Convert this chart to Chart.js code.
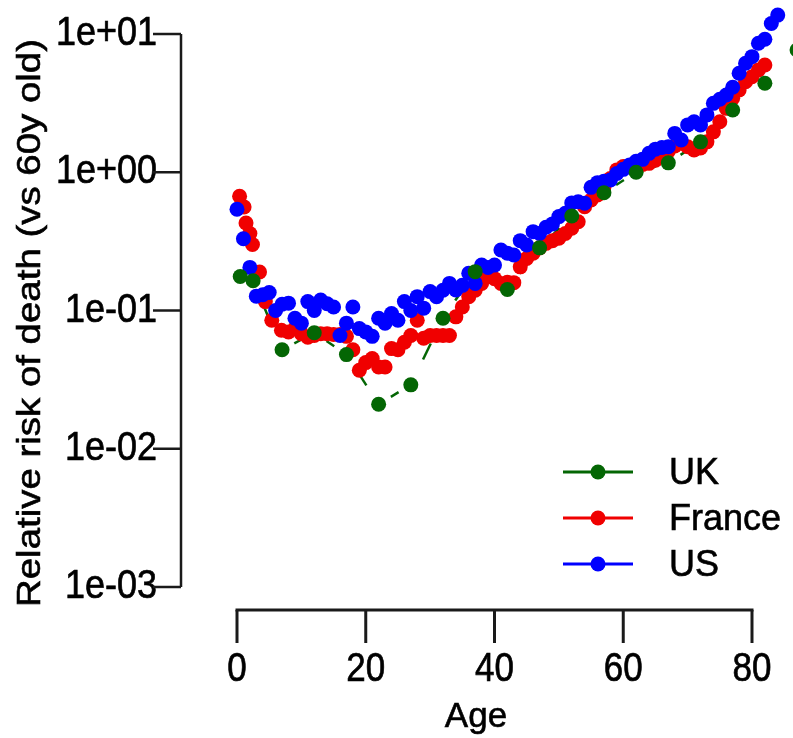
<!DOCTYPE html>
<html>
<head>
<meta charset="utf-8">
<script src="https://cdn.jsdelivr.net/npm/chart.js@4"></script>
<style>
  html, body { margin: 0; padding: 0; background: #fff; overflow: hidden; }
  #wrap { width: 793px; height: 738px; position: relative; }
</style>
</head>
<body>
<div id="wrap"><canvas id="risk"></canvas></div>
<script>
// Age-specific relative risk of death
const ukAges = [0.5, 2.5, 7, 12, 17, 22, 27, 32, 37, 42, 47, 52, 57, 62, 67, 72, 77, 82, 87];
const ukRisk = [0.176, 0.164, 0.052, 0.069, 0.048, 0.021, 0.029, 0.088, 0.191, 0.142,
  0.284, 0.483, 0.711, 1.0, 1.17, 1.66, 2.82, 4.40, 7.66];

const frAges = [0.4, 1.1, 1.4, 2, 2.4, 3.5, 4.4, 5.4, 6.9, 8, 9, 10, 11, 12, 13, 14, 15, 16, 17, 18,
  19, 20, 21, 22, 23, 24, 25, 26, 27, 28, 29, 30, 31, 32, 33, 34, 35, 36, 37, 38, 39, 40,
  41, 42, 43, 44, 45, 46, 47, 48, 49, 50, 51, 52, 53, 54, 55, 56, 57, 58, 59, 60, 61, 62,
  63, 64, 65, 66, 67, 68, 69, 70, 71, 72, 73, 74, 75, 76, 77, 78, 79, 80, 81, 82];
const frRisk = [0.67, 0.56, 0.43, 0.36, 0.30, 0.19, 0.116, 0.085, 0.072, 0.070, 0.074, 0.068,
  0.064, 0.066, 0.068, 0.068, 0.067, 0.067, 0.065, 0.052, 0.037, 0.042, 0.045, 0.039, 0.039,
  0.053, 0.052, 0.059, 0.066, 0.085, 0.063, 0.066, 0.066, 0.066, 0.066, 0.090, 0.106, 0.126,
  0.14, 0.157, 0.176, 0.17, 0.157, 0.16, 0.159, 0.207, 0.238, 0.26, 0.284, 0.306, 0.32, 0.333,
  0.361, 0.394, 0.439, 0.563, 0.63, 0.685, 0.78, 0.90, 1.04, 1.10, 1.10, 1.13, 1.14, 1.16,
  1.22, 1.30, 1.42, 1.55, 1.62, 1.53, 1.45, 1.50, 1.66, 1.96, 2.32, 2.90, 3.43, 3.94, 4.52,
  4.91, 5.50, 5.97];

const usAges = [0, 1, 2, 3, 4, 5, 6, 7, 8, 9, 10, 11, 12, 13, 14, 15, 16, 17, 18, 19, 20, 21,
  22, 23, 24, 25, 26, 27, 28, 29, 30, 31, 32, 33, 34, 35, 36, 37, 38, 39, 40, 41, 42, 43, 44,
  45, 46, 47, 48, 49, 50, 51, 52, 53, 54, 55, 56, 57, 58, 59, 60, 61, 62, 63, 64, 65, 66, 67,
  68, 69, 70, 71, 72, 73, 74, 75, 76, 77, 78, 79, 80, 81, 82, 83, 84];
const usRisk = [0.54, 0.33, 0.205, 0.127, 0.13, 0.135, 0.10, 0.111, 0.113, 0.088, 0.081, 0.116,
  0.10, 0.119, 0.112, 0.106, 0.066, 0.081, 0.106, 0.074, 0.070, 0.065, 0.088, 0.081, 0.095,
  0.085, 0.116, 0.10, 0.126, 0.104, 0.137, 0.126, 0.14, 0.157, 0.141, 0.152, 0.186, 0.157,
  0.213, 0.205, 0.213, 0.274, 0.26, 0.252, 0.32, 0.298, 0.372, 0.361, 0.40, 0.423, 0.478,
  0.505, 0.60, 0.612, 0.597, 0.778, 0.841, 0.86, 0.879, 0.98, 1.05, 1.13, 1.20, 1.24, 1.37,
  1.47, 1.51, 1.53, 1.91, 1.71, 2.20, 2.32, 2.20, 2.60, 3.15, 3.37, 3.62, 4.12, 5.20, 6.14,
  6.86, 8.57, 9.17, 11.9, 13.7];

const xTicks = [0, 20, 40, 60, 80];
const xTickLabels = ['0', '20', '40', '60', '80'];
const yTicks = [0.001, 0.01, 0.1, 1, 10];
const yTickLabels = ['1e-03', '1e-02', '1e-01', '1e+00', '1e+01'];

const GREEN = '#046604', RED = '#f00000', BLUE = '#0000ff';
const FONT = '"Liberation Sans", Arial, sans-serif';

function pts(xs, ys) {
  return xs.map((a, i) => ({ x: a, y: ys[i] }));
}

// connecting line only shows its middle part (Prism style gap round symbols);
// the last UK point sits past the end of the age axis and is not joined
const gapSegment = {
  borderDash: c => {
    const L = Math.hypot(c.p1.x - c.p0.x, c.p1.y - c.p0.y);
    if (c.p1.parsed.x > 80) return [0, L * 2];
    return [0, L * 0.38, L * 0.24, L];
  }
};

const legendItems = [
  { label: 'UK', color: GREEN },
  { label: 'France', color: RED },
  { label: 'US', color: BLUE }
];

// text a little heavier and stretched, like the upscaled source figure
function stretchText(ctx, text, x, y, sx, sy) {
  ctx.save();
  ctx.translate(x, y);
  ctx.scale(sx, sy);
  ctx.fillText(text, 0, 0);
  ctx.strokeText(text, 0, 0);
  ctx.restore();
}

const decorPlugin = {
  id: 'decor',
  afterDraw(chart) {
    const { ctx, chartArea, scales: { x, y } } = chart;
    const seg = (x1, y1, x2, y2) => { ctx.beginPath(); ctx.moveTo(x1, y1); ctx.lineTo(x2, y2); ctx.stroke(); };
    ctx.save();
    ctx.fillStyle = '#000';
    ctx.lineCap = 'butt';

    // y axis labels
    ctx.strokeStyle = '#000';
    ctx.lineWidth = 0.6;
    ctx.font = '36px ' + FONT;
    ctx.textAlign = 'right';
    ctx.textBaseline = 'middle';
    yTicks.forEach((v, i) => stretchText(ctx, yTickLabels[i], 157, y.getPixelForValue(v), 1, 1.12));

    // x axis labels, below the detached axis
    const axY = y.getPixelForValue(0.001) + 23;
    ctx.font = '35px ' + FONT;
    ctx.textAlign = 'center';
    ctx.textBaseline = 'alphabetic';
    xTicks.forEach((v, i) => stretchText(ctx, xTickLabels[i], x.getPixelForValue(v), axY + 71, 1, 1.16));

    // axis titles
    stretchText(ctx, 'Age', 476, 727, 1, 1);
    ctx.save();
    ctx.translate(31, 323);
    ctx.rotate(-Math.PI / 2);
    ctx.font = '34px ' + FONT;
    ctx.textBaseline = 'middle';
    stretchText(ctx, 'Relative risk of death (vs 60y old)', 0, 0, 1.13, 1);
    ctx.restore();

    // axis lines and ticks
    ctx.strokeStyle = '#1a1a1a';
    const ax = chartArea.left;
    ctx.lineWidth = 2.5;
    seg(ax, y.getPixelForValue(10), ax, y.getPixelForValue(0.001));
    yTicks.forEach(v => seg(ax - 28, y.getPixelForValue(v), ax, y.getPixelForValue(v)));
    ctx.lineWidth = 3;
    seg(x.getPixelForValue(0) - 1.5, axY, x.getPixelForValue(80) + 1.5, axY);
    xTicks.forEach(v => seg(x.getPixelForValue(v), axY, x.getPixelForValue(v), axY + 33));

    // legend
    ctx.font = '36px ' + FONT;
    ctx.textAlign = 'left';
    ctx.textBaseline = 'middle';
    legendItems.forEach((it, i) => {
      const ly = 472 + i * 46;
      ctx.strokeStyle = it.color;
      ctx.fillStyle = it.color;
      ctx.lineWidth = 3;
      seg(563, ly, 633, ly);
      ctx.beginPath();
      ctx.arc(598, ly, 7.5, 0, Math.PI * 2);
      ctx.fill();
      ctx.fillStyle = '#000';
      ctx.strokeStyle = '#000';
      ctx.lineWidth = 0.6;
      stretchText(ctx, it.label, 669, ly + 2, 1, 1);
    });
    ctx.restore();
  }
};

const baseSet = {
  pointRadius: 7.5,
  pointBorderWidth: 0,
  clip: false,
  borderWidth: 2.5,
  showLine: false
};

new Chart(document.getElementById('risk'), {
  type: 'scatter',
  data: {
    datasets: [
      { ...baseSet, label: 'UK', data: pts(ukAges, ukRisk),
        backgroundColor: GREEN, borderColor: GREEN, order: 0 },
      { ...baseSet, label: 'US', data: pts(usAges, usRisk),
        backgroundColor: BLUE, borderColor: BLUE, order: 1 },
      { ...baseSet, label: 'France', data: pts(frAges, frRisk),
        backgroundColor: RED, borderColor: RED, order: 2 },
      { ...baseSet, label: 'UK line', data: pts(ukAges, ukRisk), showLine: true, pointRadius: 0,
        segment: gapSegment, backgroundColor: GREEN, borderColor: GREEN, order: 3 }
    ]
  },
  options: {
    responsive: true,
    maintainAspectRatio: false,
    animation: false,
    events: [],
    layout: { autoPadding: false, padding: { top: 0, right: 0, bottom: 0, left: 0 } },
    scales: {
      x: {
        type: 'linear',
        min: -8.7,
        max: 86.37,
        afterFit: s => { s.height = 151; },
        grid: { display: false, drawTicks: false },
        border: { display: false },
        ticks: { display: false }
      },
      y: {
        type: 'logarithmic',
        min: 0.001,
        max: 17.62,
        afterFit: s => { s.width = 181; },
        grid: { display: false, drawTicks: false },
        border: { display: false },
        ticks: { display: false }
      }
    },
    plugins: {
      legend: { display: false },
      tooltip: { enabled: false }
    }
  },
  plugins: [decorPlugin]
});
</script>
</body>
</html>
